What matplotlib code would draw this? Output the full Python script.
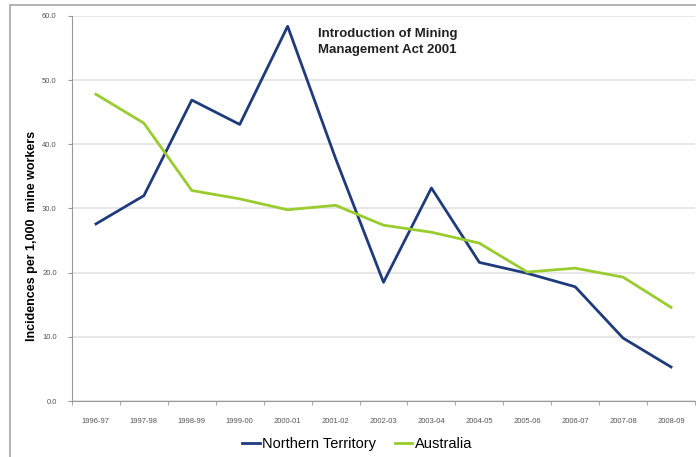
import matplotlib
matplotlib.use("Agg")
import matplotlib.pyplot as plt
import numpy as np
from matplotlib.patches import Rectangle

years = ["1996-97", "1997-98", "1998-99", "1999-00", "2000-01", "2001-02", "2002-03",
         "2003-04", "2004-05", "2005-06", "2006-07", "2007-08", "2008-09"]
northern_territory = [27.6, 32.0, 46.9, 43.1, 58.4, 37.8, 18.5, 33.2, 21.6, 19.9, 17.8, 9.8, 5.3]
australia = [47.8, 43.3, 32.8, 31.5, 29.8, 30.5, 27.4, 26.3, 24.6, 20.1, 20.7, 19.3, 14.6]
y_ticks = [0, 10, 20, 30, 40, 50, 60]

NT_COLOR = "#1F3B7D"
AUS_COLOR = "#99CC2E"

plt.rcParams["font.family"] = ["Liberation Sans", "DejaVu Sans"]

fig = plt.figure(figsize=(6.96, 4.57), dpi=100)
ax = fig.add_axes([72 / 696, 1 - 401 / 457, (695 - 72) / 696, (401 - 16) / 457])

# outer chart border (Excel chart area)
fig.patches.append(Rectangle((10 / 696, -0.05), 1.0, 1 - 5 / 457 + 0.05, transform=fig.transFigure,
                             fill=False, edgecolor="#A6A6A6", linewidth=1.2))

x = np.arange(len(years))
ax.plot(x, northern_territory, color=NT_COLOR, linewidth=2, label="Northern Territory")
ax.plot(x, australia, color=AUS_COLOR, linewidth=2, label="Australia")

ax.set_xlim(-0.5, len(years) - 0.5)
ax.set_ylim(0, 60)
ax.set_yticks(y_ticks)
ax.set_yticklabels([f"{v:.1f}" for v in y_ticks])
ax.set_xticks(x)
ax.set_xticklabels(years)
ax.set_xticks(np.arange(-0.5, len(years)), minor=True)
ax.tick_params(axis="x", which="major", length=0, pad=12, labelsize=5.5, labelcolor="#555555")
ax.tick_params(axis="x", which="minor", length=3, color="#999999", direction="out")
ax.tick_params(axis="y", length=3, color="#999999", labelsize=5.5, labelcolor="#555555", pad=8)

ax.grid(axis="y", color="#E3E3E3", linewidth=1.2)
ax.set_axisbelow(True)
for side in ["top", "right"]:
    ax.spines[side].set_visible(False)
ax.spines["left"].set_color("#999999")
ax.spines["bottom"].set_color("#999999")

ax.set_ylabel("Incidences per 1,000  mine workers", fontsize=9, fontweight="bold")
ax.yaxis.set_label_coords(-0.054, 0.43)

ax.text(0.395, 0.97, "Introduction of Mining\nManagement Act 2001", transform=ax.transAxes,
        fontsize=9.5, fontweight="bold", color="#222222", va="top", ha="left", linespacing=1.45)

fig.legend(loc="lower center", bbox_to_anchor=(0.513, -0.015), ncol=2, frameon=False,
           fontsize=10.5, handlelength=1.2, handletextpad=0.15, columnspacing=1.3)

fig.savefig("out.png", dpi=100)
